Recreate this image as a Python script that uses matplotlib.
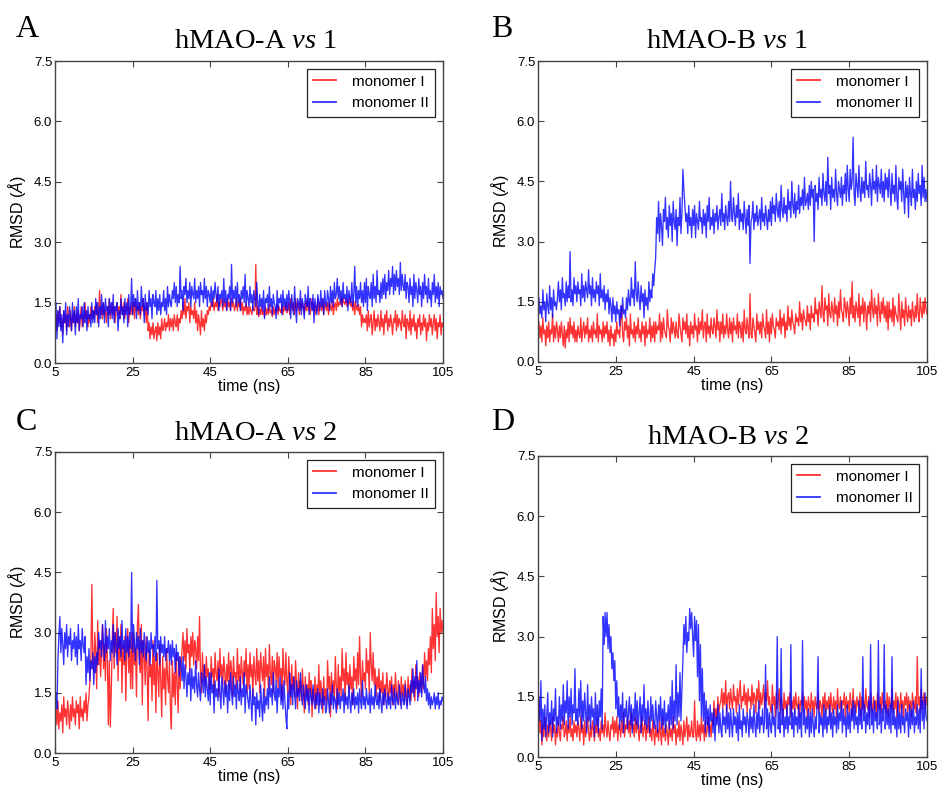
import numpy as np
import matplotlib
matplotlib.use('Agg')
from matplotlib import pyplot as plt

# RMSD traces, one value every 0.25 ns from 5 to 105 ns
t_start, t_end = 5, 105

# hMAO-A vs 1
a1_mono1 = [0.45, 1.2, 0.8, 1.3, 1.0, 1.4, 0.9, 1.1, 0.7, 1.3, 1.0, 1.2, 0.8, 1.4, 1.1, 0.9, 1.3, 0.8, 1.2, 1.0,
            1.4, 0.9, 1.2, 1.0, 1.3, 0.8, 1.1, 1.4, 0.9, 1.2, 1.0, 1.5, 1.1, 1.3, 0.9, 1.2, 1.0, 1.4, 1.1, 1.3,
            1.1, 1.4, 1.2, 1.5, 1.0, 1.3, 1.8, 1.2, 1.4, 1.1, 1.5, 1.2, 1.3, 1.0, 1.4, 1.2, 1.6, 1.1, 1.3, 1.5,
            1.2, 1.4, 1.0, 1.3, 1.5, 1.2, 1.4, 1.1, 1.7, 1.3, 1.2, 1.5, 1.1, 1.4, 1.3, 1.6, 1.0, 1.4, 1.2, 1.5,
            1.2, 1.5, 1.1, 1.6, 1.3, 1.4, 1.2, 1.5, 1.1, 1.4, 1.3, 1.6, 1.2, 1.4, 1.0, 1.5, 0.8, 1.0, 0.6, 0.9,
            0.7, 1.0, 0.6, 0.8, 0.9, 0.55, 1.0, 0.7, 0.9, 0.6, 1.1, 0.8, 0.9, 1.1, 0.8, 1.0, 0.9, 1.2, 0.8, 1.1,
            0.9, 1.1, 0.8, 1.2, 1.0, 0.9, 1.2, 0.8, 1.1, 1.0, 1.3, 1.1, 1.5, 1.2, 1.6, 1.1, 1.4, 1.3, 1.5, 1.0,
            1.4, 1.2, 1.3, 1.1, 1.5, 1.0, 1.3, 0.8, 1.2, 1.0, 0.7, 1.3, 0.9, 1.1, 0.8, 1.2, 1.0, 1.3, 1.2, 1.4,
            1.3, 1.5, 1.4, 1.6, 1.3, 1.5, 1.4, 1.7, 1.3, 1.5, 1.4, 1.6, 1.5, 1.3, 1.6, 1.4, 1.5, 1.3, 1.6, 1.4,
            1.5, 1.3, 1.6, 1.4, 1.5, 1.3, 1.4, 1.6, 1.3, 1.5, 1.4, 1.6, 1.3, 1.5, 1.2, 1.4, 1.3, 1.5, 1.2, 1.4,
            1.2, 1.4, 1.3, 1.2, 1.4, 1.3, 1.3, 2.45, 1.2, 1.4, 1.15, 1.35, 1.2, 1.4, 1.2, 1.3, 1.15, 1.4, 1.2, 1.35,
            1.2, 1.45, 1.25, 1.3, 1.15, 1.4, 1.2, 1.35, 1.25, 1.45, 1.2, 1.4, 1.3, 1.25, 1.45, 1.2, 1.4, 1.3, 1.5, 1.25,
            1.3, 1.5, 1.2, 1.6, 1.4, 1.3, 1.5, 1.2, 1.6, 1.3, 1.5, 1.4, 1.2, 1.6, 1.3, 1.5, 1.4, 1.2, 1.5, 1.3,
            1.6, 1.3, 1.5, 1.2, 1.4, 1.6, 1.3, 1.5, 1.2, 1.4, 1.3, 1.6, 1.2, 1.5, 1.4, 1.3, 1.6, 1.2, 1.5, 1.4,
            1.3, 1.5, 1.2, 1.5, 1.4, 1.3, 1.55, 1.2, 1.4, 1.5, 1.3, 1.6, 1.4, 1.5, 1.45, 1.65, 1.4, 1.6, 1.5, 1.45,
            1.6, 1.4, 1.55, 1.45, 1.65, 1.4, 1.5, 1.3, 1.55, 1.2, 1.5, 1.35, 1.3, 1.45, 1.2, 1.4, 0.9, 1.2, 1.0, 1.1,
            1.0, 1.2, 0.8, 1.3, 0.9, 1.1, 1.2, 0.7, 1.0, 1.3, 0.8, 1.1, 0.9, 1.2, 1.0, 0.8, 1.3, 0.9, 1.1, 0.7,
            1.2, 1.0, 1.3, 0.8, 1.1, 0.9, 1.2, 1.0, 0.7, 1.1, 1.0, 1.3, 0.8, 1.2, 0.9, 1.1, 1.0, 0.8, 1.3, 1.0,
            0.9, 1.2, 0.6, 1.1, 1.0, 0.8, 1.3, 0.7, 1.1, 0.9, 1.2, 0.8, 1.0, 0.6, 1.1, 0.9, 1.2, 0.7, 1.0, 0.8,
            1.2, 0.9, 1.1, 0.55, 1.0, 0.8, 1.2, 0.9, 1.1, 0.7, 1.0, 1.2, 0.8, 1.1, 0.6, 1.0, 0.9, 1.2, 0.7, 1.0,
            0.9]
a1_mono2 = [1.0, 1.5, 0.6, 1.3, 0.9, 1.4, 0.8, 1.2, 0.5, 1.3, 1.0, 1.5, 0.7, 1.2, 0.9, 1.4, 1.1, 0.8, 1.5, 1.0,
            1.3, 0.7, 1.4, 1.0, 1.6, 0.8, 1.2, 1.1, 1.4, 0.9, 1.5, 1.0, 1.3, 0.8, 1.4, 1.1, 1.2, 0.9, 1.5, 1.0,
            1.3, 1.0, 1.6, 1.2, 1.5, 0.9, 1.4, 1.1, 1.7, 1.2, 1.5, 1.0, 1.6, 1.3, 1.4, 0.9, 1.6, 1.2, 1.5, 1.1,
            1.7, 1.0, 1.4, 1.3, 1.5, 0.8, 1.3, 1.1, 1.6, 1.2, 1.4, 1.0, 1.6, 1.2, 1.5, 0.9, 1.7, 1.2, 1.4, 2.1,
            1.2, 1.7, 1.4, 1.6, 1.1, 1.8, 1.3, 1.5, 1.2, 1.9, 1.4, 1.6, 1.0, 1.7, 1.3, 1.5, 1.2, 1.8, 1.4, 1.6,
            1.1, 1.7, 1.5, 1.4, 1.8, 1.2, 1.6, 1.3, 1.7, 1.2, 1.5, 1.4, 1.8, 1.3, 1.6, 1.2, 1.9, 1.4, 1.7, 1.5,
            1.4, 1.8, 1.6, 2.0, 1.5, 1.9, 1.4, 1.7, 1.5, 2.4, 1.6, 1.8, 1.3, 1.9, 1.7, 2.1, 1.5, 1.8, 1.6, 2.0,
            1.4, 1.9, 1.7, 1.6, 2.1, 1.5, 1.8, 1.6, 1.9, 1.4, 2.0, 1.7, 1.8, 1.5, 2.1, 1.6, 1.9, 1.4, 1.8, 1.7,
            1.5, 1.9, 1.4, 1.8, 1.6, 2.0, 1.7, 1.5, 1.9, 1.3, 1.7, 1.6, 1.8, 1.4, 2.1, 1.5, 1.8, 1.3, 1.7, 1.6,
            1.9, 1.3, 2.45, 1.5, 1.8, 1.6, 1.9, 1.4, 2.0, 1.5, 1.7, 1.3, 1.8, 1.6, 1.9, 1.5, 2.2, 1.4, 1.8, 1.6,
            1.4, 1.9, 1.5, 1.7, 1.3, 1.8, 1.6, 1.4, 2.0, 1.5, 1.2, 1.7, 1.4, 1.6, 1.3, 1.8, 1.1, 1.6, 1.5, 1.7,
            1.3, 1.9, 1.4, 1.6, 1.2, 1.7, 1.5, 1.4, 1.1, 1.8, 1.3, 1.6, 1.5, 1.7, 1.2, 1.8, 1.4, 1.6, 1.3, 1.7,
            1.3, 1.8, 1.5, 1.1, 1.7, 1.4, 1.2, 1.9, 1.4, 1.0, 1.6, 1.5, 1.3, 1.8, 1.2, 1.6, 1.4, 1.1, 1.7, 1.5,
            1.4, 1.9, 1.2, 1.6, 1.5, 1.3, 1.7, 1.0, 1.6, 1.4, 1.2, 1.7, 1.5, 1.3, 1.8, 1.4, 1.6, 1.2, 1.8, 1.5,
            1.4, 1.8, 1.6, 1.3, 1.9, 1.5, 1.8, 1.4, 2.0, 1.6, 1.7, 2.1, 1.6, 1.9, 1.5, 1.8, 1.4, 2.0, 1.6, 1.7,
            1.5, 1.9, 1.3, 1.8, 1.6, 1.5, 2.0, 1.4, 1.7, 2.4, 1.5, 1.9, 1.4, 1.8, 1.6, 2.0, 1.5, 1.8, 1.4, 2.0,
            1.5, 2.1, 1.3, 1.9, 1.7, 1.6, 2.0, 1.4, 2.2, 1.6, 1.9, 1.5, 2.3, 1.7, 1.8, 1.5, 2.0, 1.6, 2.1, 1.7,
            2.2, 1.6, 2.0, 1.8, 2.3, 1.7, 2.1, 1.9, 2.4, 1.7, 2.2, 1.8, 2.3, 1.9, 2.1, 1.7, 2.5, 1.8, 2.2, 1.9,
            1.8, 2.2, 1.6, 2.0, 1.9, 1.5, 2.1, 1.7, 1.9, 1.4, 2.2, 1.6, 2.0, 1.8, 1.5, 2.1, 1.7, 1.9, 1.4, 2.0,
            1.6, 2.2, 1.7, 1.9, 1.5, 2.1, 1.6, 1.8, 1.4, 2.0, 1.7, 2.2, 1.5, 1.9, 1.6, 2.0, 1.4, 1.9, 1.7, 1.8,
            1.6]

# hMAO-B vs 1
b1_mono1 = [0.4, 1.0, 0.6, 0.9, 0.5, 1.1, 0.7, 0.8, 0.4, 0.9, 0.6, 1.0, 0.5, 0.8, 0.7, 1.2, 0.5, 0.9, 0.6, 1.0,
            0.8, 0.5, 0.9, 0.6, 1.0, 0.7, 0.4, 0.9, 0.35, 0.8, 0.6, 1.0, 0.5, 1.1, 0.7, 0.9, 0.6, 1.0, 0.5, 0.8,
            0.5, 0.9, 0.7, 0.6, 1.1, 0.5, 0.8, 1.0, 0.6, 0.9, 0.7, 1.1, 0.5, 0.8, 0.6, 0.9, 0.5, 1.0, 0.7, 0.8,
            0.6, 1.2, 0.5, 0.9, 0.7, 0.8, 0.5, 1.0, 0.6, 0.9, 0.7, 1.0, 0.5, 0.8, 0.4, 0.9, 0.6, 0.7, 0.4, 0.8,
            0.5, 1.0, 0.7, 0.8, 0.6, 1.1, 1.4, 0.7, 0.5, 1.0, 0.8, 1.1, 0.6, 0.9, 0.4, 1.2, 0.7, 0.8, 0.6, 1.0,
            0.5, 0.9, 0.7, 1.1, 0.6, 0.8, 0.5, 1.0, 0.7, 0.9, 0.4, 1.0, 0.6, 0.8, 0.7, 1.1, 0.5, 0.9, 0.6, 1.0,
            0.5, 1.0, 0.7, 0.9, 0.8, 1.2, 0.5, 1.0, 0.6, 1.1, 0.8, 0.7, 0.6, 1.3, 0.9, 0.8, 0.5, 1.1, 0.7, 1.0,
            0.8, 0.6, 1.0, 0.7, 0.6, 1.2, 0.9, 0.7, 0.5, 1.1, 0.8, 1.0, 0.7, 1.2, 0.6, 0.9, 0.4, 1.0, 0.7, 0.9,
            0.6, 1.2, 0.8, 0.9, 0.5, 1.1, 0.7, 1.0, 0.8, 1.3, 0.6, 0.9, 1.0, 0.5, 1.2, 0.7, 0.9, 0.6, 1.1, 0.8,
            0.7, 1.1, 0.9, 0.6, 1.3, 0.8, 1.0, 0.5, 1.0, 0.7, 1.2, 0.6, 0.9, 0.7, 1.2, 0.8, 0.6, 1.1, 0.7, 1.0,
            0.5, 1.1, 0.8, 0.9, 0.7, 1.2, 0.6, 1.0, 0.9, 0.6, 1.0, 0.5, 1.3, 0.8, 0.7, 1.1, 0.8, 0.6, 1.7, 0.7,
            0.6, 1.1, 0.9, 0.7, 0.5, 1.2, 0.8, 1.0, 0.7, 1.0, 0.6, 1.2, 0.9, 0.8, 0.6, 1.3, 0.7, 1.0, 0.5, 1.1,
            0.7, 1.2, 0.9, 0.8, 0.6, 1.1, 0.9, 1.0, 0.8, 1.3, 0.7, 1.1, 0.9, 1.2, 0.6, 1.0, 0.8, 1.4, 0.9, 1.1,
            0.8, 1.3, 1.0, 0.9, 0.7, 1.2, 1.0, 1.1, 0.9, 1.5, 1.0, 1.2, 0.8, 1.3, 1.1, 1.0, 0.9, 1.4, 1.0, 1.2,
            0.8, 1.4, 1.1, 1.2, 1.0, 1.6, 1.2, 1.3, 0.9, 1.5, 1.3, 1.1, 1.9, 1.2, 1.0, 1.6, 1.3, 1.4, 0.9, 1.7,
            1.2, 1.1, 1.5, 1.3, 1.0, 1.6, 1.2, 1.4, 0.9, 1.5, 1.1, 1.8, 1.3, 1.2, 1.0, 1.6, 1.4, 1.1, 1.5, 1.3,
            0.9, 1.6, 1.2, 2.0, 1.1, 1.4, 1.0, 1.5, 1.3, 1.1, 1.7, 0.9, 1.4, 1.2, 1.6, 1.0, 1.5, 1.3, 0.8, 1.4,
            1.2, 1.5, 1.0, 1.8, 1.3, 1.1, 1.6, 1.2, 1.4, 0.9, 1.7, 1.3, 1.0, 1.5, 1.2, 1.6, 1.1, 1.4, 1.0, 1.5,
            0.8, 1.5, 1.1, 1.3, 1.0, 1.6, 0.9, 1.4, 1.2, 1.1, 1.0, 1.7, 1.2, 0.8, 1.5, 1.1, 1.3, 0.9, 1.6, 1.2,
            1.0, 1.4, 1.1, 1.3, 0.9, 1.5, 1.2, 1.0, 1.4, 1.1, 1.7, 1.2, 1.0, 1.6, 1.3, 1.1, 1.5, 1.2, 1.6, 1.3,
            1.2]
b1_mono2 = [0.9, 1.6, 1.2, 1.4, 1.1, 1.8, 1.3, 1.5, 1.0, 1.7, 1.4, 1.2, 1.9, 1.3, 1.6, 1.1, 1.8, 1.4, 1.5, 1.3,
            1.6, 2.0, 1.5, 1.8, 1.3, 2.1, 1.6, 1.7, 1.4, 2.0, 1.5, 1.9, 1.6, 2.75, 1.5, 1.8, 1.4, 2.1, 1.7, 1.9,
            1.5, 2.0, 1.7, 1.8, 1.4, 2.2, 1.6, 1.9, 1.5, 2.0, 1.8, 1.6, 2.3, 1.7, 1.9, 1.4, 2.1, 1.6, 1.8, 1.5,
            2.0, 1.7, 1.9, 1.4, 2.2, 1.6, 1.8, 1.5, 1.9, 1.3, 1.7, 1.5, 1.8, 1.2, 1.6, 1.4, 1.0, 1.6, 1.2, 1.4,
            1.0, 1.5, 1.2, 1.3, 0.9, 1.4, 1.1, 1.6, 1.2, 1.3, 1.1, 1.6, 1.3, 1.8, 1.5, 1.4, 2.1, 1.6, 1.8, 1.4,
            2.5, 1.7, 1.5, 2.0, 1.6, 1.3, 1.9, 1.5, 1.7, 1.1, 1.8, 1.4, 1.6, 1.3, 2.0, 1.5, 1.8, 1.6, 2.2, 1.9,
            2.3, 2.6, 3.6, 3.2, 4.0, 3.0, 3.7, 3.4, 2.9, 3.8, 3.5, 4.1, 3.3, 3.6, 3.1, 3.9, 3.4, 3.7, 3.0, 4.0,
            3.5, 3.3, 3.8, 2.9, 3.6, 3.4, 4.1, 3.2, 3.7, 4.8, 4.3, 3.9, 3.5, 3.7, 3.2, 3.9, 3.4, 3.6, 3.1, 3.8,
            3.4, 3.9, 3.1, 3.7, 3.5, 3.3, 4.0, 3.5, 3.6, 3.2, 3.8, 3.4, 3.7, 3.1, 3.9, 3.5, 4.1, 3.3, 3.6, 3.4,
            3.8, 3.2, 3.7, 3.5, 3.9, 3.3, 3.6, 3.8, 3.4, 4.2, 3.5, 3.7, 3.3, 3.9, 3.6, 3.4, 4.0, 3.5, 4.5, 3.6,
            3.5, 4.1, 3.7, 3.4, 3.9, 3.6, 4.2, 3.3, 3.8, 3.5, 3.7, 3.3, 4.0, 3.6, 3.2, 3.8, 3.4, 3.9, 2.45, 3.5,
            3.6, 4.0, 3.3, 3.7, 3.5, 3.9, 3.4, 3.6, 3.8, 3.3, 4.1, 3.5, 3.7, 3.4, 3.9, 3.6, 3.3, 3.8, 3.5, 4.0,
            3.4, 4.1, 3.7, 3.9, 3.5, 4.2, 3.8, 3.6, 4.0, 3.5, 4.4, 3.8, 3.6, 4.1, 3.7, 3.9, 3.5, 4.3, 3.8, 4.0,
            3.6, 4.5, 3.9, 3.7, 4.2, 3.6, 4.0, 3.8, 4.4, 3.7, 4.1, 3.9, 4.3, 3.8, 4.6, 3.9, 4.0, 4.2, 3.8, 4.4,
            3.9, 4.5, 4.1, 4.3, 3.0, 4.4, 4.0, 4.2, 3.8, 4.6, 4.1, 4.3, 3.9, 4.7, 4.2, 4.0, 4.5, 3.9, 5.1, 4.2,
            4.4, 3.8, 4.6, 4.1, 4.3, 4.0, 4.8, 4.2, 3.9, 4.5, 4.3, 4.1, 4.6, 3.9, 4.4, 4.2, 4.7, 4.0, 4.9, 4.3,
            4.0, 4.8, 4.3, 4.5, 5.6, 4.2, 3.9, 4.7, 4.4, 4.1, 4.9, 4.3, 4.0, 4.6, 4.2, 4.5, 4.1, 5.0, 4.3, 4.4,
            4.1, 4.7, 4.4, 3.9, 4.8, 4.3, 4.5, 4.2, 4.9, 4.0, 4.6, 4.4, 4.2, 4.8, 4.1, 4.5, 4.0, 4.7, 4.3, 4.6,
            4.1, 4.8, 4.3, 3.9, 4.7, 4.2, 4.4, 4.0, 4.9, 4.1, 3.8, 4.6, 4.3, 4.5, 4.0, 4.8, 4.2, 3.7, 4.5, 4.1,
            4.4, 3.6, 4.6, 4.2, 3.9, 4.8, 4.1, 4.3, 3.8, 4.5, 4.0, 4.7, 4.2, 4.4, 3.9, 4.9, 4.1, 4.6, 4.0, 4.3,
            4.0]

# hMAO-A vs 2
a2_mono1 = [0.5, 1.1, 0.7, 1.3, 0.6, 1.0, 0.8, 1.2, 0.5, 1.4, 0.9, 1.1, 0.7, 1.3, 1.0, 0.6, 1.2, 0.8, 1.4, 0.9,
            1.1, 0.7, 1.3, 1.0, 1.2, 0.6, 1.4, 0.9, 1.1, 0.8, 1.3, 1.0, 1.5, 0.8, 1.2, 1.4, 1.8, 2.4, 4.2, 2.2,
            2.0, 3.0, 2.5, 1.6, 3.3, 2.2, 2.8, 1.9, 2.6, 3.2, 2.1, 2.7, 1.8, 3.1, 2.4, 0.7, 2.3, 0.65, 1.5, 2.8,
            3.6, 2.1, 3.0, 2.5, 3.4, 1.8, 2.9, 2.3, 3.2, 1.5, 2.7, 2.2, 2.9, 1.3, 2.6, 3.1, 2.0, 2.8, 1.6, 3.0,
            1.6, 3.0, 2.2, 2.6, 1.4, 3.2, 3.7, 2.4, 2.0, 3.2, 1.2, 2.8, 2.5, 1.7, 2.9, 2.1, 0.8, 2.6, 1.9, 2.2,
            1.3, 2.8, 1.7, 2.4, 1.0, 2.5, 2.0, 1.4, 2.7, 1.8, 0.9, 2.4, 1.6, 2.1, 1.2, 2.6, 1.9, 1.5, 2.3, 1.1,
            0.6, 2.3, 1.4, 2.0, 1.2, 2.5, 1.7, 1.0, 2.4, 1.6, 2.2, 2.6, 3.0, 2.3, 2.8, 2.1, 3.1, 2.5, 2.7, 2.0,
            2.9, 2.4, 3.0, 2.2, 2.8, 2.6, 2.1, 2.9, 2.3, 3.4, 2.0, 1.5, 2.5, 1.8, 2.2, 1.7, 2.4, 1.9, 2.1, 1.6,
            1.6, 2.4, 1.9, 2.1, 1.5, 2.5, 2.0, 1.8, 2.3, 1.4, 2.6, 1.9, 2.2, 1.7, 2.4, 2.0, 1.5, 2.2, 1.8, 2.5,
            1.6, 2.3, 2.1, 1.4, 2.4, 1.9, 2.0, 1.6, 2.6, 1.8, 2.2, 1.5, 2.4, 2.0, 1.7, 2.3, 1.9, 2.6, 1.5, 2.2,
            1.6, 2.5, 1.9, 2.2, 1.4, 2.4, 2.0, 1.7, 2.6, 1.8, 2.3, 1.5, 2.5, 2.1, 1.8, 2.4, 1.4, 2.6, 1.9, 2.2,
            1.6, 2.7, 2.0, 1.7, 2.4, 1.5, 2.3, 2.1, 1.8, 2.5, 1.6, 2.4, 1.9, 2.1, 1.3, 2.6, 2.0, 1.7, 2.5, 1.8,
            1.5, 2.4, 1.8, 1.2, 2.2, 1.6, 1.9, 1.4, 2.3, 1.7, 1.1, 2.0, 1.5, 1.8, 1.3, 2.1, 1.6, 1.0, 1.9, 1.4,
            1.7, 1.2, 2.0, 1.5, 1.8, 0.9, 1.6, 1.3, 1.9, 1.1, 1.7, 1.4, 2.2, 1.2, 1.8, 1.5, 1.0, 1.9, 1.3, 1.6,
            1.2, 2.3, 1.6, 1.9, 0.9, 2.0, 1.5, 1.8, 1.3, 2.4, 1.7, 1.1, 2.2, 1.5, 1.9, 1.4, 2.6, 1.8, 2.1, 1.3,
            2.5, 1.7, 2.0, 1.5, 2.2, 1.6, 1.9, 1.2, 2.4, 1.8, 2.1, 1.6, 2.5, 1.7, 2.9, 1.9, 1.4, 2.3, 1.8, 2.0,
            1.6, 2.6, 2.0, 2.3, 1.5, 3.0, 2.2, 1.8, 2.5, 1.7, 2.1, 1.4, 1.9, 1.6, 2.1, 1.3, 1.8, 1.5, 2.0, 1.2,
            1.7, 1.4, 2.0, 1.6, 1.3, 1.8, 1.5, 1.9, 1.2, 1.7, 1.4, 2.0, 1.5, 1.3, 1.8, 1.6, 1.2, 1.9, 1.4, 1.7,
            1.3, 1.8, 1.5, 1.2, 1.9, 1.4, 1.7, 1.3, 2.1, 1.5, 1.8, 1.3, 2.2, 1.6, 1.9, 1.4, 2.0, 1.7, 1.5, 2.2,
            1.6, 2.5, 1.9, 2.3, 1.8, 2.6, 2.2, 2.9, 2.0, 3.6, 2.6, 3.2, 2.3, 4.0, 2.9, 3.4, 2.5, 3.6, 3.0, 3.3,
            3.0]
a2_mono2 = [0.7, 1.5, 1.1, 2.3, 2.9, 3.4, 2.5, 3.1, 2.7, 2.2, 3.0, 2.6, 3.2, 2.4, 2.9, 2.7, 3.1, 2.3, 2.8, 2.6,
            3.0, 2.4, 2.9, 2.2, 3.2, 2.6, 2.8, 2.3, 3.1, 2.7, 2.5, 2.9, 1.7, 2.4, 2.0, 2.6, 1.8, 2.3, 2.1, 2.5,
            1.7, 2.4, 2.0, 2.5, 2.2, 3.0, 2.6, 2.8, 2.4, 3.2, 2.7, 2.3, 3.3, 2.5, 2.9, 2.6, 3.1, 2.3, 2.8, 2.5,
            3.2, 2.4, 3.0, 2.7, 2.2, 3.1, 2.6, 2.9, 2.4, 3.3, 2.6, 2.8, 2.3, 3.1, 2.5, 2.9, 2.4, 3.0, 2.6, 4.5,
            2.5, 3.2, 2.7, 2.3, 3.0, 2.6, 2.9, 2.2, 3.1, 2.5, 2.8, 2.4, 3.0, 2.6, 2.3, 2.9, 2.5, 2.8, 2.2, 3.0,
            2.6, 2.7, 2.4, 2.9, 2.3, 4.3, 2.6, 2.8, 2.2, 2.9, 2.5, 2.7, 2.4, 2.9, 2.3, 2.6, 2.5, 2.8, 2.3, 2.7,
            2.2, 2.8, 2.4, 2.6, 2.0, 2.7, 2.3, 2.5, 1.9, 2.4, 2.2, 1.8, 2.4, 1.6, 2.2, 1.9, 1.4, 2.0, 1.7, 2.1,
            1.3, 2.1, 1.6, 1.9, 1.5, 2.3, 1.7, 1.4, 2.0, 1.6, 1.3, 2.0, 1.8, 1.5, 2.2, 1.4, 1.9, 1.6, 1.3, 2.0,
            1.2, 2.0, 1.5, 1.7, 1.0, 1.8, 1.4, 1.6, 1.3, 2.1, 1.5, 1.1, 1.9, 1.6, 1.2, 1.8, 1.4, 1.7, 1.0, 1.8,
            1.3, 2.0, 1.5, 1.2, 1.9, 1.4, 1.7, 1.1, 1.8, 1.5, 1.3, 1.9, 1.2, 1.6, 1.4, 2.0, 1.0, 1.7, 1.5, 1.3,
            1.1, 1.7, 1.3, 0.8, 1.6, 1.2, 1.4, 0.7, 1.5, 1.1, 1.3, 0.9, 1.7, 1.2, 0.8, 1.6, 1.0, 1.4, 1.2, 1.6,
            1.1, 1.9, 1.4, 1.6, 1.2, 2.0, 1.5, 1.3, 1.8, 1.0, 1.6, 1.4, 1.9, 1.2, 1.7, 1.1, 1.8, 1.3, 0.9, 0.6,
            1.5, 1.1, 2.0, 1.4, 1.7, 1.2, 1.9, 1.5, 1.1, 1.8, 1.4, 1.6, 1.3, 2.0, 1.5, 1.2, 1.7, 1.4, 1.1, 1.7,
            1.3, 1.6, 1.0, 1.6, 1.4, 1.2, 1.7, 1.3, 1.1, 1.5, 1.2, 1.6, 1.0, 1.5, 1.3, 1.1, 1.6, 1.2, 1.4, 1.0,
            1.1, 1.6, 1.3, 1.0, 1.5, 1.2, 1.7, 1.1, 1.4, 1.3, 1.0, 1.6, 1.2, 1.5, 1.1, 1.4, 1.3, 1.6, 1.0, 1.5,
            1.2, 1.4, 1.1, 1.7, 1.3, 1.0, 1.5, 1.2, 1.6, 1.1, 1.4, 1.2, 1.5, 1.0, 1.6, 1.3, 1.1, 1.8, 1.2, 1.4,
            1.1, 1.6, 1.3, 1.2, 1.5, 1.0, 1.6, 1.2, 1.4, 1.1, 1.7, 1.3, 1.2, 1.5, 1.1, 1.6, 1.3, 1.0, 1.5, 1.2,
            1.6, 1.3, 1.1, 1.5, 1.2, 1.4, 1.1, 1.7, 1.3, 1.2, 1.6, 1.1, 1.5, 1.3, 1.2, 1.7, 1.4, 1.1, 1.5, 1.3,
            1.2, 1.7, 1.3, 1.1, 1.6, 1.4, 1.2, 1.8, 1.5, 2.1, 1.4, 1.9, 1.6, 2.3, 1.3, 1.8, 1.5, 2.0, 1.4, 2.2,
            1.7, 1.5, 1.9, 1.3, 1.6, 1.2, 1.5, 1.1, 1.4, 1.2, 1.3, 1.5, 1.1, 1.4, 1.2, 1.5, 1.1, 1.3, 1.2, 1.4,
            1.3]

# hMAO-B vs 2
b2_mono1 = [0.5, 1.4, 0.6, 0.9, 0.3, 0.8, 0.5, 1.0, 0.6, 0.4, 0.8, 0.5, 0.9, 0.7, 0.4, 1.0, 0.6, 0.8, 0.3, 0.7,
            0.5, 0.9, 0.6, 0.4, 0.8, 0.7, 1.0, 0.5, 0.6, 0.9, 0.4, 0.8, 0.6, 1.0, 0.5, 0.7, 0.4, 0.9, 0.6, 0.8,
            0.5, 0.9, 0.7, 0.4, 1.0, 0.6, 0.8, 0.3, 0.9, 0.5, 0.7, 1.0, 0.6, 0.4, 0.8, 0.5, 0.9, 0.7, 0.4, 0.8,
            0.6, 1.0, 0.5, 0.7, 0.4, 0.9, 0.6, 0.8, 0.5, 1.1, 0.7, 0.5, 0.9, 0.6, 0.4, 0.8, 0.7, 1.0, 0.5, 0.9,
            0.6, 1.0, 0.4, 0.8, 0.7, 0.5, 0.9, 0.6, 1.1, 0.5, 0.8, 0.7, 1.0, 0.6, 0.9, 0.5, 1.1, 0.7, 0.8, 0.5,
            1.0, 0.6, 0.9, 0.7, 0.4, 0.8, 0.6, 1.0, 0.5, 0.7, 0.9, 0.4, 0.8, 0.6, 1.0, 0.5, 0.7, 0.4, 0.9, 0.6,
            0.3, 0.8, 0.5, 0.7, 0.4, 0.9, 0.6, 0.3, 1.0, 0.5, 0.7, 0.4, 0.8, 0.6, 0.3, 0.9, 0.5, 0.7, 0.4, 1.0,
            0.6, 0.8, 0.3, 0.7, 0.5, 0.9, 0.4, 0.8, 0.6, 0.3, 0.9, 0.5, 0.7, 1.0, 0.4, 0.8, 0.5, 0.6, 0.9, 0.5,
            0.5, 1.4, 0.6, 0.4, 0.9, 0.5, 0.8, 0.4, 1.0, 0.6, 0.8, 0.4, 0.9, 0.5, 0.7, 1.0, 0.6, 0.8, 0.5, 0.9,
            0.8, 1.4, 1.0, 1.2, 0.9, 1.5, 1.1, 1.3, 1.4, 1.7, 1.2, 1.6, 1.3, 1.9, 1.1, 1.5, 1.6, 1.2, 1.7, 1.4,
            1.2, 1.8, 1.4, 1.5, 1.1, 1.7, 1.3, 1.6, 1.9, 1.2, 1.5, 1.4, 1.8, 1.3, 1.6, 1.1, 1.7, 1.4, 1.5, 1.2,
            1.8, 1.3, 1.6, 1.5, 1.1, 1.7, 1.4, 1.9, 1.2, 1.6, 1.3, 1.5, 1.8, 1.2, 1.6, 1.4, 1.9, 1.3, 1.5, 1.2,
            1.1, 1.8, 1.3, 1.5, 1.0, 1.6, 1.2, 1.4, 1.7, 1.1, 1.5, 1.3, 1.0, 1.6, 1.2, 1.4, 1.1, 1.5, 1.3, 1.6,
            1.0, 1.4, 1.2, 1.5, 1.1, 1.6, 1.3, 1.2, 1.5, 1.0, 1.4, 1.3, 1.6, 1.1, 1.5, 1.2, 1.4, 1.0, 1.5, 1.3,
            1.1, 1.6, 1.2, 1.4, 1.0, 1.5, 1.3, 1.2, 1.6, 1.1, 1.4, 1.3, 1.0, 1.5, 1.2, 1.6, 1.1, 1.4, 1.2, 1.5,
            1.0, 1.6, 1.3, 1.1, 1.5, 1.2, 1.4, 1.0, 1.7, 1.3, 1.2, 1.5, 1.1, 1.4, 1.3, 1.6, 1.0, 1.5, 1.2, 1.4,
            1.1, 1.6, 1.3, 1.0, 1.7, 1.2, 1.4, 1.1, 1.5, 1.3, 1.2, 1.6, 1.0, 1.5, 1.2, 1.4, 1.1, 1.7, 1.3, 1.2,
            1.5, 1.0, 1.6, 1.3, 1.1, 1.5, 1.2, 1.4, 1.0, 1.6, 1.3, 1.2, 1.5, 1.1, 1.6, 1.3, 1.2, 1.4, 1.1, 1.6,
            1.0, 1.5, 1.3, 1.2, 1.7, 1.1, 1.4, 1.2, 1.6, 1.0, 1.5, 1.3, 1.1, 1.6, 1.2, 1.4, 1.0, 1.5, 1.3, 1.6,
            1.1, 1.5, 1.2, 1.4, 1.0, 1.6, 1.3, 1.2, 1.5, 1.1, 2.5, 1.3, 1.5, 1.1, 1.7, 1.2, 1.4, 1.6, 1.2, 1.5,
            1.3]
b2_mono2 = [0.6, 1.5, 0.9, 1.9, 0.4, 1.2, 0.7, 1.3, 0.5, 1.0, 1.6, 0.6, 1.1, 0.8, 1.4, 0.5, 1.2, 0.9, 1.7, 0.6,
            1.0, 0.8, 1.5, 0.7, 1.3, 0.9, 1.8, 0.8, 1.4, 1.1, 1.9, 0.7, 1.5, 1.0, 1.7, 0.8, 1.3, 1.1, 2.2, 0.9,
            1.2, 0.8, 1.7, 1.0, 1.9, 0.7, 1.4, 0.9, 1.6, 1.1, 0.6, 1.8, 0.9, 1.3, 0.7, 1.5, 1.0, 1.2, 0.5, 1.6,
            0.8, 1.3, 0.6, 1.4, 1.0, 1.7, 0.7, 3.5, 2.8, 3.6, 3.0, 3.6, 2.7, 3.3, 2.6, 3.0, 2.2, 2.6, 1.9, 2.4,
            1.2, 1.9, 1.0, 1.5, 0.7, 1.3, 0.9, 1.6, 0.6, 1.2, 1.0, 1.4, 0.7, 1.1, 1.5, 0.8, 1.3, 0.6, 1.2, 0.9,
            1.6, 0.8, 1.4, 0.7, 1.1, 1.5, 0.6, 1.3, 0.9, 1.8, 0.8, 1.2, 0.7, 1.4, 1.0, 0.6, 1.5, 0.9, 1.3, 0.8,
            0.7, 1.4, 1.0, 0.6, 1.3, 0.9, 1.5, 0.7, 1.2, 0.8, 1.4, 0.6, 1.1, 0.9, 1.3, 0.7, 1.5, 0.8, 1.9, 0.7,
            1.4, 0.9, 2.3, 0.8, 1.6, 1.0, 2.1, 0.9, 1.7, 2.4, 3.3, 2.8, 3.5, 2.6, 3.1, 2.9, 3.7, 3.2, 3.6, 3.0,
            2.5, 3.5, 2.9, 3.4, 2.0, 3.3, 1.4, 2.8, 1.0, 2.2, 0.9, 1.6, 0.6, 1.4, 0.8, 1.2, 0.5, 1.3, 0.9, 1.1,
            0.6, 1.2, 0.4, 1.0, 0.8, 1.3, 0.6, 1.1, 0.7, 0.5, 1.2, 0.8, 1.0, 0.6, 1.3, 0.7, 1.1, 0.5, 1.2, 0.8,
            0.5, 1.2, 0.8, 1.0, 0.6, 1.1, 0.4, 1.3, 0.7, 0.9, 0.5, 1.2, 0.8, 1.0, 0.6, 1.1, 0.9, 0.5, 1.2, 0.7,
            1.0, 0.6, 1.3, 0.8, 0.5, 1.1, 0.7, 1.4, 0.6, 1.0, 0.8, 1.2, 0.6, 0.9, 2.3, 0.7, 1.2, 0.5, 1.1, 0.8,
            0.6, 1.3, 0.8, 1.0, 0.5, 1.2, 3.0, 0.7, 1.1, 0.6, 2.7, 0.8, 1.2, 0.5, 1.0, 0.7, 1.3, 0.6, 1.0, 0.8,
            2.8, 0.7, 1.1, 0.5, 1.2, 0.8, 1.0, 0.6, 1.3, 0.7, 1.1, 0.5, 2.9, 0.8, 1.2, 0.6, 1.0, 0.7, 1.2, 0.5,
            1.1, 0.6, 1.2, 0.8, 0.5, 1.0, 0.7, 1.3, 2.5, 0.6, 1.1, 0.8, 1.0, 0.5, 1.3, 0.7, 1.2, 0.6, 1.0, 0.8,
            1.3, 0.7, 1.1, 0.5, 1.2, 0.8, 1.0, 0.6, 1.3, 0.7, 1.1, 0.9, 1.4, 0.6, 1.2, 0.8, 1.0, 0.5, 1.3, 0.7,
            1.1, 0.6, 1.2, 0.9, 1.4, 0.7, 1.3, 0.8, 1.0, 0.6, 1.4, 0.8, 1.2, 0.7, 2.5, 0.9, 1.3, 0.6, 1.1, 0.8,
            1.4, 0.7, 2.8, 0.8, 1.2, 0.6, 1.4, 0.9, 1.1, 0.7, 2.9, 0.8, 1.3, 0.6, 1.2, 0.9, 2.8, 0.7, 1.3, 0.8,
            1.2, 0.7, 1.3, 0.6, 2.5, 0.8, 1.2, 0.7, 1.0, 0.5, 1.4, 0.7, 1.1, 0.6, 1.3, 0.8, 1.0, 0.6, 1.2, 0.9,
            1.1, 0.5, 1.3, 0.7, 1.2, 0.8, 1.4, 0.6, 1.0, 0.8, 1.3, 0.7, 1.2, 0.6, 2.2, 0.9, 1.4, 0.7, 1.6, 1.0,
            0.9]

panel_letters = ['A', 'B', 'C', 'D']
panel_titles = ['hMAO-A $\\mathit{vs}$ 1', 'hMAO-B $\\mathit{vs}$ 1',
                'hMAO-A $\\mathit{vs}$ 2', 'hMAO-B $\\mathit{vs}$ 2']
mono1_series = [a1_mono1, b1_mono1, a2_mono1, b2_mono1]
mono2_series = [a1_mono2, b1_mono2, a2_mono2, b2_mono2]
series_labels = ['monomer I', 'monomer II']
x_ticks = [5, 25, 45, 65, 85, 105]
y_ticks = [0.0, 1.5, 3.0, 4.5, 6.0, 7.5]

plt.rcParams['font.family'] = ['Liberation Sans', 'DejaVu Sans']
plt.rcParams['mathtext.fontset'] = 'custom'
plt.rcParams['mathtext.rm'] = 'Liberation Serif'
plt.rcParams['mathtext.it'] = 'Liberation Serif:italic'
plt.rcParams['mathtext.sf'] = 'Liberation Sans:italic'

W, H = 939, 791
fig = plt.figure(figsize=(W / 100, H / 100), dpi=100)

# axes boxes in pixels: left, top, right, bottom
boxes = [(55, 61, 443, 363), (538, 61, 927, 362),
         (55, 452, 443, 753), (538, 456, 927, 757)]
letter_pos = [(16, 37), (491, 37), (16, 430), (491, 430)]
title_shift = [7, -6, 7, -5]  # titles are not exactly centred in the original

for i in range(4):
    l, t, r, b = boxes[i]
    ax = fig.add_axes([l / W, 1 - b / H, (r - l) / W, (b - t) / H])

    y1 = mono1_series[i]
    y2 = mono2_series[i]
    ax.plot(np.linspace(t_start, t_end, len(y1)), y1, color='#ff0000', lw=0.95, alpha=0.8, label=series_labels[0])
    ax.plot(np.linspace(t_start, t_end, len(y2)), y2, color='#0000ff', lw=0.95, alpha=0.8, label=series_labels[1])

    ax.set_xlim(t_start, t_end)
    ax.set_ylim(0, 7.5)
    ax.set_xticks(x_ticks)
    ax.set_yticks(y_ticks)
    ax.set_yticklabels(['%.1f' % v for v in y_ticks])
    ax.tick_params(direction='in', top=True, right=True, length=4, width=0.8,
                   labelsize=9.5, color='#444444')
    ax.tick_params(axis='x', pad=3)
    ax.tick_params(axis='y', pad=2)
    for sp in ax.spines.values():
        sp.set_color('#444444')
        sp.set_linewidth(1.0)

    ax.set_xlabel('time (ns)', fontsize=11.5, labelpad=0)
    ax.set_ylabel('RMSD ($\\mathsf{Å}$)', fontsize=11.5, labelpad=4)
    ax.set_title(panel_titles[i], fontfamily='Liberation Serif', fontsize=20.5, pad=9,
                 x=0.5 + title_shift[i] / (r - l))

    leg = ax.legend(loc='upper right', fontsize=11, fancybox=False, framealpha=1,
                    edgecolor='#222222', handlelength=1.5, handletextpad=1.1,
                    labelspacing=0.5, borderaxespad=0.5)
    leg.get_frame().set_linewidth(0.9)
    for ln in leg.get_lines():
        ln.set_linewidth(1.3)

    lx, ly = letter_pos[i]
    fig.text(lx / W, 1 - ly / H, panel_letters[i], fontfamily='Liberation Serif',
             fontsize=23, va='baseline', ha='left')

fig.savefig('out.png', dpi=100)
